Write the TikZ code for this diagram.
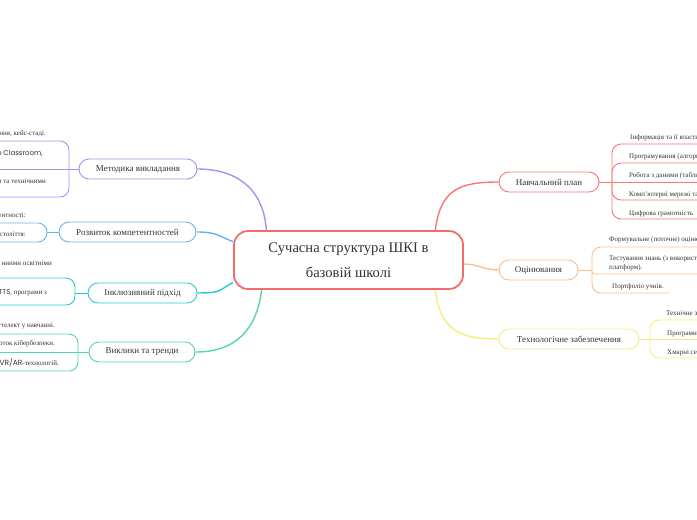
\documentclass[tikz,border=0pt]{standalone}
\usepackage{fontspec}
\setmainfont{Liberation Serif}
\newfontfamily\latsans{Poppins}
\usetikzlibrary{calc, backgrounds}

\definecolor{rootc}{RGB}{242,108,108}
\definecolor{metc}{RGB}{165,145,245}
\definecolor{rozc}{RGB}{105,178,240}
\definecolor{incc}{RGB}{40,200,215}
\definecolor{vykc}{RGB}{85,215,165}
\definecolor{navc}{RGB}{245,120,115}
\definecolor{ocic}{RGB}{253,190,140}
\definecolor{tehc}{RGB}{248,235,125}
\definecolor{txt}{RGB}{51,51,51}

\begin{document}
\begin{tikzpicture}[x=1pt, y=-1pt, text=txt,
    root/.style={draw=rootc, line width=1.8pt, rounded corners=14pt, fill=white, minimum width=229pt, minimum height=58pt, align=center, font=\fontsize{14.6}{25}\selectfont},
    topic/.style={draw=#1, line width=0.9pt, rounded corners=10pt, fill=white, minimum height=20pt, inner sep=0pt, font=\fontsize{9}{11}\selectfont},
    link/.style={draw=#1, line width=1.4pt},
    twig/.style={draw=#1, line width=0.9pt, rounded corners=9pt},
    lleaf/.style={anchor=base east, inner sep=0pt, font=\fontsize{7}{9}\selectfont},
    rleaf/.style={anchor=base west, inner sep=0pt, align=left, font=\fontsize{7}{9}\selectfont}
]
    \useasboundingbox (0,0) rectangle (697,520);
    \clip (0,0) rectangle (697,520);

    \node[root] (root) at (348.5,260) {Сучасна структура ШКІ в\\базовій школі};

    % left topics
    \node[topic=metc, minimum width=118pt] (met) at (138,169) {Методика викладання};
    \node[topic=rozc, minimum width=137pt] (roz) at (127.5,232) {Розвиток компетентностей};
    \node[topic=incc, minimum width=109pt] (inc) at (142.5,293) {Інклюзивний підхід};
    \node[topic=vykc, minimum width=106pt] (vyk) at (142,352) {Виклики та тренди};
    % right topics
    \node[topic=navc, minimum width=100pt] (nav) at (549,182) {Навчальний план};
    \node[topic=ocic, minimum width=79pt] (oci) at (538.5,270) {Оцінювання};
    \node[topic=tehc, minimum width=140pt] (teh) at (569,339) {Технологічне забезпечення};

    % leaves
    \node[lleaf] (m1) at (46,135) {ння, кейс-стаді.};
    \node[lleaf] (m2) at (43,155) {\latsans e Classroom,};
    \node[lleaf] (m3) at (46,183) {и та технічними};
    \node[lleaf] (r1) at (26,217) {ентності:};
    \node[lleaf] (r2) at (26,236) {століття:};
    \node[lleaf] (i1) at (52,265) {нними освітніми};
    \node[lleaf] (i2) at (47,294) {{\latsans TTS}, програми з};
    \node[lleaf] (v1) at (55,327) {ттелект у навчанні.};
    \node[lleaf] (v2) at (55,345) {оток кібербезпеки.};
    \node[lleaf] (v3) at (59,365) {{\latsans\fontsize{7.5}{9}\selectfont VR/AR}-технологій.};

    \node[rleaf] (n1) at (630,139) {Інформація та її власти};
    \node[rleaf] (n2) at (629,158) {Програмування (алгори};
    \node[rleaf] (n3) at (629,177) {Робота з даними (табли};
    \node[rleaf] (n4) at (629,196) {Комп’ютерні мережі та};
    \node[rleaf] (n5) at (629,215) {Цифрова грамотність};
    \node[rleaf] (o1) at (609,241) {Формувальне (поточне) оціню};
    \node[rleaf] (o2) at (609,269) {Тестування знань (з використ\\платформ).};
    \node[rleaf] (o3) at (612,288) {Портфоліо учнів.};
    \node[rleaf] (t1) at (666,315) {Технічне з};
    \node[rleaf] (t2) at (667,335) {Програмне};
    \node[rleaf] (t3) at (667,354) {Хмарні се};

    % joints and line ends
    \coordinate (mj) at (69,169);
    \coordinate (rj) at (47,232);
    \coordinate (ij) at (75,293);
    \coordinate (vj) at (78,352);
    \coordinate (nj) at (612,182);
    \coordinate (oj) at (592,270);
    \coordinate (tj) at (650,339);

    \begin{scope}[on background layer]
        \draw[link=metc] (root.160) .. controls +(-3,-45) and +(35,0) .. (met.east);
        \draw[link=rozc] (root.171) .. controls +(-15,-6) and +(20,0) .. (roz.east);
        \draw[link=incc] (root.191) .. controls +(-15,8) and +(25,0) .. (inc.east);
        \draw[link=vykc] (root.199) .. controls +(-5,40) and +(40,0) .. (vyk.east);
        \draw[link=navc] (root.19) .. controls +(5,-40) and +(-40,0) .. (nav.west);
        \draw[link=ocic] (root.-2) .. controls +(15,0) and +(-15,0) .. (oci.west);
        \draw[link=tehc] (root.-19) .. controls +(5,40) and +(-40,0) .. (teh.west);
    \end{scope}

    \draw[twig=metc] (met.west) -- (mj);
    \draw[twig=metc] (mj) |- (-5,141);
    \draw[twig=metc] (mj) -- (-5,169);
    \draw[twig=metc] (mj) |- (-5,197);

    \draw[twig=rozc] (roz.west) -- (rj);
    \draw[twig=rozc] (rj) |- (-5,223);
    \draw[twig=rozc] (rj) |- (-5,242);

    \draw[twig=incc] (inc.west) -- (ij);
    \draw[twig=incc] (ij) |- (-5,278);
    \draw[twig=incc] (ij) |- (-5,305);

    \draw[twig=vykc] (vyk.west) -- (vj);
    \draw[twig=vykc] (vj) |- (-5,334);
    \draw[twig=vykc] (vj) -- (-5,352);
    \draw[twig=vykc] (vj) |- (-5,371);

    \draw[twig=navc] (nav.east) -- (nj);
    \draw[twig=navc] (nj) |- (705,144);
    \draw[twig=navc] (nj) |- (705,163);
    \draw[twig=navc] (nj) -- (705,182);
    \draw[twig=navc] (nj) |- (705,200);
    \draw[twig=navc] (nj) |- (705,219);

    \draw[twig=ocic] (oci.east) -- (oj);
    \draw[twig=ocic] (oj) |- (705,247);
    \draw[twig=ocic, rounded corners=2.5pt] (oj) |- (705,274);
    \draw[twig=ocic] (oj) |- (670,293);

    \draw[twig=tehc] (teh.east) -- (tj);
    \draw[twig=tehc] (tj) |- (705,320);
    \draw[twig=tehc] (tj) -- (705,339);
    \draw[twig=tehc] (tj) |- (705,358);
\end{tikzpicture}
\end{document}
